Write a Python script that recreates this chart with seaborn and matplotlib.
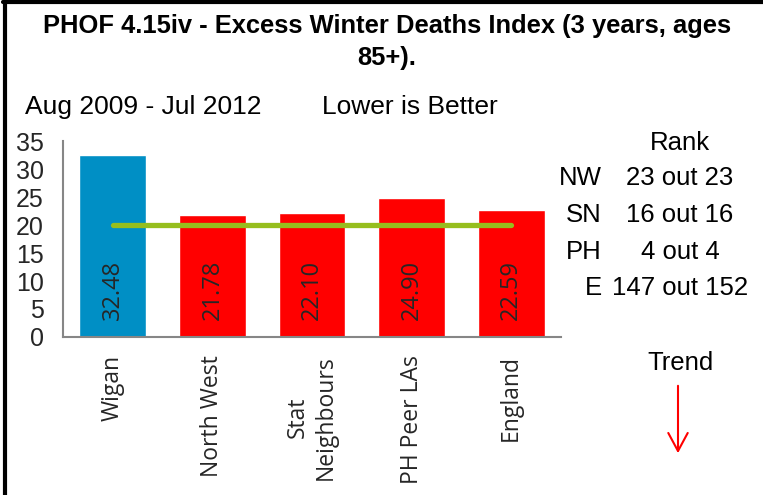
import matplotlib
matplotlib.use('Agg')
import matplotlib.pyplot as plt
from matplotlib.lines import Line2D
from matplotlib.patches import FancyArrowPatch
from matplotlib.ticker import FixedLocator, MultipleLocator
import seaborn as sns

# Data
regions = ['Wigan', 'North West', 'Stat\nNeighbours', 'PH Peer LAs', 'England']
values = [32.48, 21.78, 22.10, 24.90, 22.59]
target = [20, 20, 20, 20, 20]
bar_colors = ['#008FC5', '#FF0000', '#FF0000', '#FF0000', '#FF0000']
rank_codes = ['NW', 'SN', 'PH', 'E']
rank_texts = ['23 out 23', '16 out 16', '4 out 4', '147 out 152']

sns.set_style('white')
W, H = 763, 495
fig = plt.figure(figsize=(W / 100, H / 100), dpi=100)
ax = fig.add_axes([63 / W, 1 - 337 / H, (561 - 63) / W, (337 - 141) / H])

sns.barplot(x=regions, y=values, hue=regions, palette=bar_colors, width=0.67,
            saturation=1, legend=False, ax=ax)
ax.plot(range(len(regions)), target, color='#96BE1E', lw=3.8, solid_capstyle='round')

for i, v in enumerate(values):
    ax.annotate(f'{v:.2f}', (i, 0), xytext=(0, 12), textcoords='offset points',
                rotation=90, ha='center', va='bottom', fontsize=17, family='Open Sans')

grey = '#868686'
ax.set_xlim(-0.5, 4.5)
ax.set_ylim(0, 35)
ax.yaxis.set_major_locator(MultipleLocator(5))
ax.xaxis.set_minor_locator(FixedLocator([-0.5, 0.5, 1.5, 2.5, 3.5, 4.5]))
ax.tick_params(axis='x', which='major', length=0, pad=13)
ax.tick_params(axis='x', which='minor', length=5, width=1.5, color=grey, direction='out')
ax.tick_params(axis='y', length=6, width=1.5, color=grey, direction='out', pad=8,
               labelsize=18)
ax.set_xticks(range(len(regions)))
ax.set_xticklabels(regions, rotation=90, ha='center', va='top', multialignment='center',
                   fontsize=16.5, family='Open Sans')
for lab in ax.get_yticklabels():
    lab.set_family('Liberation Sans')
ax.set_xlabel('')
ax.set_ylabel('')
for s in ['top', 'right']:
    ax.spines[s].set_visible(False)
for s in ['left', 'bottom']:
    ax.spines[s].set_color(grey)
    ax.spines[s].set_linewidth(1.5)


def fx(px):
    return px / W


def fy(py):
    return 1 - py / H


txt = dict(family='Liberation Sans', color='black')
fig.text(fx(387), fy(42), 'PHOF 4.15iv - Excess Winter Deaths Index (3 years, ages\n85+).',
         ha='center', va='center', multialignment='center', fontweight='bold',
         linespacing=1.45, fontsize=18.4, **txt)
fig.text(fx(25), fy(114), 'Aug 2009 - Jul 2012', ha='left', va='baseline', fontsize=19, **txt)
fig.text(fx(322), fy(114), 'Lower is Better', ha='left', va='baseline', fontsize=19, **txt)

fig.text(fx(680), fy(143), 'Rank', ha='center', va='center', fontsize=18.5, **txt)
for code, rt, py in zip(rank_codes, rank_texts, [178, 215, 252, 288]):
    fig.text(fx(602), fy(py), code, ha='right', va='center', fontsize=18.5, **txt)
    fig.text(fx(680), fy(py), rt, ha='center', va='center', fontsize=18.5, **txt)

fig.text(fx(680), fy(363), 'Trend', ha='center', va='center', fontsize=18.5, **txt)
fig.patches.append(FancyArrowPatch((fx(678), fy(383)), (fx(678), fy(456)),
                                   transform=fig.transFigure, figure=fig,
                                   arrowstyle='->,head_length=1.3,head_width=0.7',
                                   mutation_scale=10, color='#FF0000', lw=1.5))

# partial frame around the chart (left and top edges)
fig.add_artist(Line2D([fx(5), fx(5)], [fy(0), fy(H)], color='black', lw=3, transform=fig.transFigure))
fig.add_artist(Line2D([fx(3), fx(W)], [fy(1.5), fy(1.5)], color='black', lw=3, transform=fig.transFigure))

fig.savefig('out.png', dpi=100)
